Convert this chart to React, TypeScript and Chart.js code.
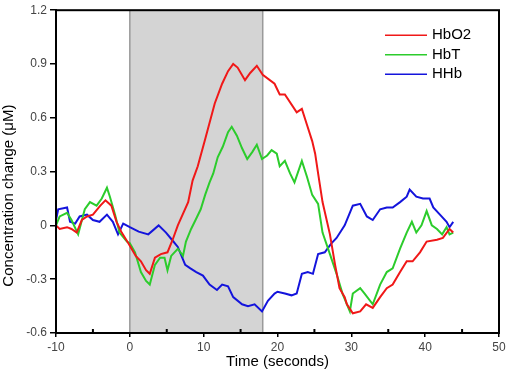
import React, { useEffect, useRef } from "react";
import { Chart, registerables } from "chart.js";

Chart.register(...registerables);

const xTickValues = [-10, 0, 10, 20, 30, 40, 50];
const xMinorTicks = [-5, 5, 15, 25, 35, 45];
const yTickValues = [-0.6, -0.3, 0, 0.3, 0.6, 0.9, 1.2];
const stimulus = [0, 18];
const yTitle = "Concentration change (\u03bcM)";
const xTitle = "Time (seconds)";

const seriesNames = ["HbO2", "HbT", "HHb"];
const seriesColors = ["#f01818", "#2ccc2c", "#1414dc"];

const hbo2Time = [-10, -9.5, -8.5, -7.9, -7.2, -6.5, -5.8, -5, -4, -3.3, -2.5, -1.8, -1.1, -0.2, 0.8, 1.5, 2.2, 2.7, 3.4, 4.2, 5.1, 5.8, 6.5, 7.9, 8.5, 9.2, 10.2, 11.5, 12.5, 13.3, 14.0, 14.6, 15.6, 16.3, 17.2, 18.0, 19.6, 20.3, 21.0, 22.6, 23.3, 24.0, 24.7, 25.1, 25.5, 26.1, 27.1, 27.8, 28.4, 29.1, 29.4, 30.2, 31.2, 32.0, 32.9, 33.9, 34.8, 35.6, 36.6, 37.5, 38.3, 39.3, 40.2, 41.6, 42.4, 43.3, 43.8];
const hbo2Values = [0, -0.02, -0.01, -0.02, -0.04, 0.03, 0.05, 0.06, 0.11, 0.14, 0.11, 0.02, -0.04, -0.1, -0.17, -0.2, -0.25, -0.27, -0.18, -0.16, -0.15, -0.08, 0.0, 0.13, 0.25, 0.33, 0.48, 0.68, 0.79, 0.86, 0.9, 0.88, 0.81, 0.85, 0.89, 0.84, 0.79, 0.73, 0.73, 0.63, 0.65, 0.56, 0.47, 0.4, 0.29, 0.13, -0.05, -0.22, -0.35, -0.4, -0.44, -0.49, -0.48, -0.44, -0.46, -0.4, -0.35, -0.33, -0.26, -0.2, -0.2, -0.15, -0.09, -0.08, -0.07, -0.02, -0.04];

const hbtTime = [-10, -9.5, -8.5, -7.9, -7.0, -6.1, -5.4, -4.5, -3.8, -3.1, -2.7, -2.0, -1.4, -0.4, 0.0, 0.7, 1.5, 2.2, 2.7, 3.4, 4.1, 4.7, 5.1, 5.6, 6.5, 7.2, 7.6, 8.3, 8.9, 9.6, 10.2, 10.8, 11.3, 11.9, 12.6, 13.3, 13.8, 14.5, 15.2, 15.9, 16.6, 17.2, 17.9, 18.6, 19.2, 19.9, 20.3, 21.0, 21.7, 22.3, 23.3, 24.0, 24.7, 25.5, 26.1, 27.1, 28.0, 28.8, 29.8, 30.2, 31.2, 31.8, 32.9, 33.9, 34.8, 35.6, 36.6, 37.5, 38.2, 38.8, 39.5, 40.2, 40.9, 41.6, 42.3, 42.9, 43.3, 43.8];
const hbtValues = [0.0, 0.05, 0.07, 0.03, -0.05, 0.09, 0.13, 0.11, 0.15, 0.21, 0.16, 0.06, -0.04, -0.09, -0.1, -0.15, -0.26, -0.31, -0.33, -0.22, -0.18, -0.18, -0.25, -0.17, -0.13, -0.17, -0.09, -0.02, 0.03, 0.09, 0.17, 0.24, 0.29, 0.38, 0.44, 0.52, 0.55, 0.5, 0.43, 0.37, 0.41, 0.45, 0.37, 0.39, 0.42, 0.4, 0.33, 0.36, 0.29, 0.24, 0.36, 0.27, 0.17, 0.12, -0.04, -0.16, -0.27, -0.38, -0.48, -0.38, -0.35, -0.38, -0.44, -0.33, -0.26, -0.24, -0.13, -0.04, 0.02, -0.04, 0.0, 0.08, 0.0, -0.02, -0.05, -0.01, -0.05, -0.04];

const hhbTime = [-10, -9.7, -8.5, -8.1, -7.4, -6.8, -5.8, -5.0, -4.1, -3.1, -2.3, -1.6, -0.9, 0.0, 1.2, 2.5, 3.9, 4.9, 5.7, 6.5, 7.5, 8.2, 9.0, 9.9, 10.8, 11.8, 12.5, 13.3, 14.0, 15.2, 16.0, 16.9, 17.9, 18.7, 19.6, 20.0, 21.0, 21.9, 22.6, 23.3, 24.1, 24.8, 25.5, 26.4, 27.3, 28.0, 29.1, 30.2, 31.2, 32.1, 32.9, 33.9, 34.8, 35.6, 36.6, 37.5, 37.9, 38.8, 39.7, 40.6, 41.1, 42.0, 42.9, 43.3, 43.8];
const hhbValues = [0.03, 0.09, 0.1, 0.02, 0.01, 0.05, 0.06, 0.03, 0.02, 0.06, 0.02, -0.05, 0.01, -0.01, -0.035, -0.05, 0.0, -0.04, -0.08, -0.12, -0.22, -0.24, -0.26, -0.28, -0.33, -0.36, -0.33, -0.34, -0.4, -0.44, -0.45, -0.44, -0.48, -0.42, -0.38, -0.37, -0.38, -0.39, -0.38, -0.27, -0.26, -0.27, -0.16, -0.15, -0.1, -0.07, 0.0, 0.11, 0.12, 0.05, 0.03, 0.09, 0.1, 0.1, 0.13, 0.16, 0.2, 0.16, 0.15, 0.15, 0.1, 0.06, 0.02, -0.01, 0.02];

const FONT = "'Liberation Sans', Arial, Helvetica, sans-serif";

function toPoints(t: number[], v: number[]) {
  return t.map((x, i) => ({ x, y: v[i] }));
}

const framePlugin = {
  id: "framePlugin",
  beforeDatasetsDraw(chart: any) {
    const { ctx, chartArea, scales } = chart;
    const x0 = scales.x.getPixelForValue(stimulus[0]);
    const x1 = scales.x.getPixelForValue(stimulus[1]);
    ctx.save();
    ctx.fillStyle = "#d4d4d4";
    ctx.fillRect(x0, chartArea.top, x1 - x0, chartArea.bottom - chartArea.top);
    ctx.strokeStyle = "#9a9a9a";
    ctx.lineWidth = 1.5;
    ctx.beginPath();
    ctx.moveTo(x0, chartArea.top);
    ctx.lineTo(x0, chartArea.bottom);
    ctx.moveTo(x1, chartArea.top);
    ctx.lineTo(x1, chartArea.bottom);
    ctx.stroke();
    ctx.restore();
  },
  afterDraw(chart: any) {
    const { ctx, chartArea, scales } = chart;
    ctx.save();
    ctx.strokeStyle = "#000";
    ctx.lineWidth = 2;
    ctx.strokeRect(chartArea.left, chartArea.top, chartArea.right - chartArea.left, chartArea.bottom - chartArea.top);
    ctx.beginPath();
    xMinorTicks.forEach((v) => {
      const px = scales.x.getPixelForValue(v);
      ctx.moveTo(px, chartArea.bottom);
      ctx.lineTo(px, chartArea.bottom - 4);
    });
    ctx.stroke();
    // y axis title
    ctx.save();
    ctx.translate(chartArea.left - 47, (chartArea.top + chartArea.bottom) / 2 + 24);
    ctx.rotate(-Math.PI / 2);
    ctx.font = "15px " + FONT;
    ctx.fillStyle = "#000";
    ctx.textAlign = "center";
    ctx.textBaseline = "middle";
    ctx.fillText(yTitle, 0, 0);
    ctx.restore();
    // legend
    const lx0 = chartArea.right - 114;
    const lx1 = chartArea.right - 72;
    ctx.font = "15px " + FONT;
    ctx.textBaseline = "middle";
    ctx.textAlign = "left";
    seriesNames.forEach((name, i) => {
      const y = chartArea.top + 25 + i * 19.5;
      ctx.strokeStyle = seriesColors[i];
      ctx.lineWidth = 1.5;
      ctx.beginPath();
      ctx.moveTo(lx0, y);
      ctx.lineTo(lx1, y);
      ctx.stroke();
      ctx.fillStyle = "#000";
      ctx.fillText(name, lx1 + 5, y);
    });
    ctx.restore();
  },
};

export default function App() {
  const ref = useRef<HTMLCanvasElement | null>(null);
  useEffect(() => {
    if (!ref.current) return;
    const values = [
      toPoints(hbo2Time, hbo2Values),
      toPoints(hbtTime, hbtValues),
      toPoints(hhbTime, hhbValues),
    ];
    const chart = new Chart(ref.current, {
      type: "line",
      data: {
        datasets: seriesNames.map((name, i) => ({
          label: name,
          data: values[i],
          borderColor: seriesColors[i],
          backgroundColor: seriesColors[i],
          borderWidth: 2,
          pointRadius: 0,
          tension: 0,
        })),
      },
      options: {
        responsive: true,
        maintainAspectRatio: false,
        animation: false,
        layout: { padding: { top: 4, right: 12, left: 0, bottom: 0 } },
        plugins: { legend: { display: false }, tooltip: { enabled: false } },
        scales: {
          x: {
            type: "linear",
            min: -10,
            max: 50,
            afterBuildTicks: (s: any) => {
              s.ticks = xTickValues.map((v) => ({ value: v }));
            },
            afterFit: (s: any) => {
              s.height = 38;
            },
            ticks: {
              color: "#444",
              font: { size: 12, family: FONT },
              padding: 3,
              maxRotation: 0,
              callback: (v: any) => String(v),
            },
            grid: { drawOnChartArea: false, drawTicks: true, tickLength: 4, color: "#000", lineWidth: 1.5 },
            border: { display: true, color: "#000", width: 2 },
            title: {
              display: true,
              text: xTitle,
              color: "#000",
              font: { size: 15, family: FONT },
              padding: { top: 0, bottom: 0 },
            },
          },
          y: {
            type: "linear",
            min: -0.6,
            max: 1.2,
            afterBuildTicks: (s: any) => {
              s.ticks = yTickValues.map((v) => ({ value: v }));
            },
            afterFit: (s: any) => {
              s.width = 56;
            },
            ticks: {
              color: "#444",
              font: { size: 12, family: FONT },
              padding: 3,
              callback: (v: any) => {
                const n = Number(v);
                return Math.abs(n) < 1e-9 ? "0" : n.toFixed(1);
              },
            },
            grid: { drawOnChartArea: false, drawTicks: true, tickLength: 6, color: "#000", lineWidth: 1.5 },
            border: { display: true, color: "#000", width: 2 },
            title: { display: false },
          },
        },
      },
      plugins: [framePlugin],
    });
    return () => chart.destroy();
  }, []);
  return (
    <div style={{ position: "fixed", left: 0, top: 0, width: 511, height: 371, background: "#fff" }}>
      <canvas ref={ref} />
    </div>
  );
}
